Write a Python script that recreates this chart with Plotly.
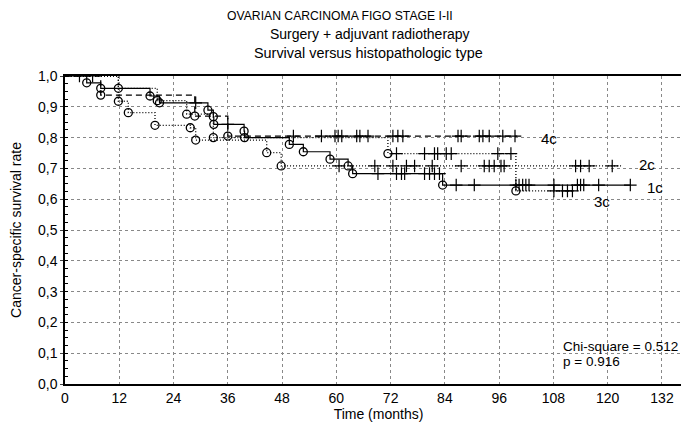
import plotly.graph_objects as go

# ---------------- data ----------------
groups = ["1c", "2c", "3c", "4c"]

c1_event_t = [4.8, 7.9, 18.8, 20.9, 31.6, 32.8, 32.9, 39.6, 39.7, 49.6, 52.7, 58.6, 62.6, 63.6, 83.5]
c1_event_s = [0.978, 0.96, 0.935, 0.913, 0.889, 0.868, 0.843, 0.821, 0.80, 0.778, 0.754, 0.73, 0.708, 0.683, 0.646]
c1_censor_t = [28.9, 36.0, 69.2, 73.3, 74.4, 75.1, 79.5, 80.6, 81.7, 82.8, 86.5, 90.5, 99.7, 100.4,
               101.2, 101.9, 102.6, 108.1, 113.3, 114.0, 114.7, 118.0, 125.0]
c1_end = 125.0

c2_event_t = [11.8, 14.0, 19.9, 27.7, 28.9, 44.6, 47.8]
c2_event_s = [0.918, 0.881, 0.84, 0.832, 0.792, 0.751, 0.708]
c2_censor_t = [60.6, 68.5, 72.5, 75.5, 77.3, 81.2, 87.6, 92.7, 93.8, 94.9, 96.4, 97.1,
               112.9, 114.0, 115.9, 121.0]
c2_end = 123.0

c3_event_t = [11.8, 20.4, 26.9, 32.8, 71.4, 99.7]
c3_event_s = [0.96, 0.92, 0.876, 0.80, 0.748, 0.627]
c3_censor_t = [73.3, 79.5, 81.7, 82.4, 84.3, 85.4, 95.7, 98.6, 108.1, 110.0, 111.1, 112.2]
c3_end = 112.2

c4_event_t = [7.9, 28.7, 36.0]
c4_event_s = [0.938, 0.87, 0.805]
c4_censor_t = [3.2, 6.1, 50.5, 56.7, 59.7, 60.4, 61.2, 64.5, 65.2, 67.0, 72.5, 73.6, 74.7,
               86.9, 87.6, 91.6, 92.4, 93.8, 96.8, 99.5]
c4_end = 100.0

label_t = [128.3, 126.5, 116.6, 104.8]
label_s = [0.637, 0.713, 0.591, 0.798]

x_ticks = [0, 12, 24, 36, 48, 60, 72, 84, 96, 108, 120, 132]
y_ticks = [0.0, 0.1, 0.2, 0.3, 0.4, 0.5, 0.6, 0.7, 0.8, 0.9, 1.0]
y_tick_labels = ["0,0", "0,1", "0,2", "0,3", "0,4", "0,5", "0,6", "0,7", "0,8", "0,9", "1,0"]

title_lines = ["OVARIAN CARCINOMA FIGO STAGE I-II",
               "Surgery + adjuvant radiotherapy",
               "Survival versus histopathologic type"]
stat_lines = ["Chi-square = 0.512", "p = 0.916"]

FONT = "Liberation Sans, Arial, sans-serif"

# plot-area geometry in pixels
L, R, T, B = 57, 3, 68, 50
PW = 689 - L - R
PH = 426 - T - B


def km_steps(ev_t, ev_s, end_t):
    xs, ys = [0.0], [1.0]
    s = 1.0
    for t, v in zip(ev_t, ev_s):
        xs += [t, t]
        ys += [s, v]
        s = v
    xs.append(end_t)
    ys.append(s)
    return xs, ys


def surv_at(ev_t, ev_s, t):
    s = 1.0
    for et, v in zip(ev_t, ev_s):
        if et <= t:
            s = v
    return s


series = [
    (c1_event_t, c1_event_s, c1_censor_t, c1_end, "solid"),
    (c2_event_t, c2_event_s, c2_censor_t, c2_end, "dot"),
    (c3_event_t, c3_event_s, c3_censor_t, c3_end, "dot"),
    (c4_event_t, c4_event_s, c4_censor_t, c4_end, "dash"),
]

fig = go.Figure()
for name, (et, es, ct, end, dash) in zip(groups, series):
    xs, ys = km_steps(et, es, end)
    fig.add_trace(go.Scatter(x=xs, y=ys, mode="lines", name=name,
                             line=dict(color="black", width=1.2 if dash == "solid" else 1.3,
                                       dash="6px,4px" if dash == "dash" else ("1px,2px" if dash == "dot" else "solid")),
                             hoverinfo="skip", showlegend=False))
    fig.add_trace(go.Scatter(x=ct, y=[surv_at(et, es, t) for t in ct], mode="markers",
                             marker=dict(symbol="cross-thin", size=9, line=dict(color="black", width=1.2)),
                             showlegend=False, hoverinfo="skip"))
    fig.add_trace(go.Scatter(x=et, y=es, mode="markers",
                             marker=dict(symbol="circle-open", size=8, color="black",
                                         line=dict(color="black", width=1.3)),
                             showlegend=False, hoverinfo="skip"))

annotations = []
for name, t, s in zip(groups, label_t, label_s):
    annotations.append(dict(x=t, y=s, xref="x", yref="y", text=name, showarrow=False,
                            xanchor="left", yanchor="middle",
                            font=dict(family=FONT, size=15, color="black")))

title_x = [333, 363, 361]
title_y = [8, 26, 45]
title_size = [12.2, 14, 14.4]
for txt, px, py, fs in zip(title_lines, title_x, title_y, title_size):
    annotations.append(dict(x=(px - L) / PW, y=(426 - B - py) / PH, xref="paper", yref="paper",
                            text=txt, showarrow=False, xanchor="center", yanchor="middle",
                            font=dict(family=FONT, size=fs, color="black")))

stat_y = [338, 353]
for txt, py in zip(stat_lines, stat_y):
    annotations.append(dict(x=(555 - L) / PW, y=(426 - B - py) / PH, xref="paper", yref="paper",
                            text=txt, showarrow=False, xanchor="left", yanchor="middle",
                            font=dict(family=FONT, size=13.5, color="black")))

fig.update_layout(
    width=689, height=426,
    margin=dict(l=L, r=R, t=T, b=B),
    paper_bgcolor="white", plot_bgcolor="white",
    font=dict(family=FONT, size=14, color="black"),
    annotations=annotations,
    xaxis=dict(range=[0, PW / 4.537], tickmode="array", tickvals=x_ticks,
               showgrid=True, gridcolor="#888", griddash="dot", gridwidth=1,
               showline=True, linecolor="black", linewidth=1.5, mirror=True,
               zeroline=False, ticks="", tickfont=dict(size=14),
               title=dict(text="Time (months)", font=dict(size=14), standoff=0)),
    yaxis=dict(range=[0, 1.0], tickmode="array", tickvals=y_ticks, ticktext=y_tick_labels,
               showgrid=True, gridcolor="#888", griddash="dot", gridwidth=1,
               showline=True, linecolor="black", linewidth=1.5, mirror=True,
               zeroline=False, ticks="outside", ticklen=3, tickfont=dict(size=14),
               minor=dict(ticks="inside", ticklen=3, dtick=0.025, showgrid=False, tickcolor="black"),
               title=dict(text="Cancer-specific survival rate", font=dict(size=14), standoff=16)),
)

fig.write_html("out.html")
